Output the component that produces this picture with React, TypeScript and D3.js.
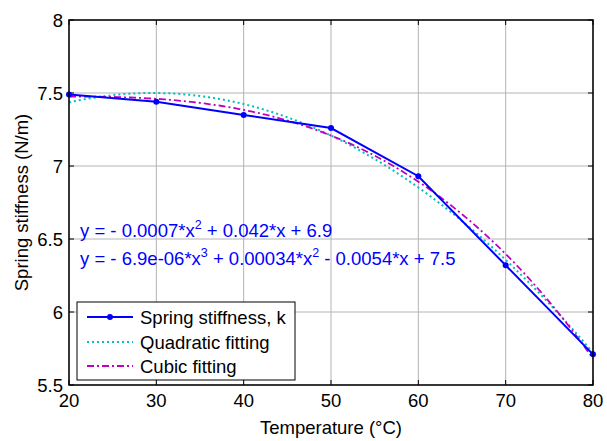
import React from "react";
import * as d3 from "d3";

const temps = [20, 30, 40, 50, 60, 70, 80];
const stiffness = [7.49, 7.44, 7.35, 7.26, 6.93, 6.32, 5.71];
const xTicks = [20, 30, 40, 50, 60, 70, 80];
const yTicks = [5.5, 6, 6.5, 7, 7.5, 8];
const legendLabels = ["Spring stiffness, k", "Quadratic fitting", "Cubic fitting"];

function polyfit(xs: number[], ys: number[], deg: number): number[] {
  const n = deg + 1;
  const A: number[][] = Array.from({ length: n }, () => new Array(n + 1).fill(0));
  for (let r = 0; r < n; r++) {
    for (let c = 0; c < n; c++) {
      A[r][c] = xs.reduce((s, x) => s + Math.pow(x, r + c), 0);
    }
    A[r][n] = xs.reduce((s, x, i) => s + Math.pow(x, r) * ys[i], 0);
  }
  for (let i = 0; i < n; i++) {
    let p = i;
    for (let k = i + 1; k < n; k++) if (Math.abs(A[k][i]) > Math.abs(A[p][i])) p = k;
    [A[i], A[p]] = [A[p], A[i]];
    for (let k = i + 1; k < n; k++) {
      const f = A[k][i] / A[i][i];
      for (let c = i; c <= n; c++) A[k][c] -= f * A[i][c];
    }
  }
  const coef = new Array(n).fill(0);
  for (let i = n - 1; i >= 0; i--) {
    let s = A[i][n];
    for (let c = i + 1; c < n; c++) s -= A[i][c] * coef[c];
    coef[i] = s / A[i][i];
  }
  return coef;
}

export default function App() {
  const W = 607, H = 441;
  const L = 69, R = 593, T = 20, B = 385;
  const x = d3.scaleLinear().domain([20, 80]).range([L, R]);
  const y = d3.scaleLinear().domain([5.5, 8]).range([B, T]);
  const font = "Arial, 'Liberation Sans', sans-serif";
  const fs = 18.5;

  const q = polyfit(temps, stiffness, 2);
  const c3 = polyfit(temps, stiffness, 3);
  const xs = d3.range(20, 80.01, 0.5);
  const ev = (co: number[], t: number) => co.reduce((s, a, i) => s + a * Math.pow(t, i), 0);
  const line = d3.line<[number, number]>().x(d => x(d[0])).y(d => y(d[1]));
  const dataPath = line(temps.map((t, i) => [t, stiffness[i]]))!;
  const qPath = line(xs.map(t => [t, ev(q, t)]))!;
  const cPath = line(xs.map(t => [t, ev(c3, t)]))!;

  const legX = 77, legY = 302, legW = 218, legH = 78;
  const rows = [317, 342, 366];

  return (
    <svg width={W} height={H} style={{ position: "absolute", left: 0, top: 0, background: "#fff" }} fontFamily={font}>
      <rect x={0} y={0} width={W} height={H} fill="#fff" />
      {/* grid */}
      {xTicks.map(t => (
        <line key={"gx" + t} x1={x(t)} x2={x(t)} y1={T} y2={B} stroke="#b4b4b4" strokeWidth={1} />
      ))}
      {yTicks.map(t => (
        <line key={"gy" + t} x1={L} x2={R} y1={y(t)} y2={y(t)} stroke="#b4b4b4" strokeWidth={1} />
      ))}
      {/* ticks */}
      {xTicks.map(t => (
        <g key={"tx" + t}>
          <line x1={x(t)} x2={x(t)} y1={B} y2={B - 5} stroke="#000" />
          <line x1={x(t)} x2={x(t)} y1={T} y2={T + 5} stroke="#000" />
          <text x={x(t)} y={B + 22} fontSize={fs} textAnchor="middle">{t}</text>
        </g>
      ))}
      {yTicks.map(t => (
        <g key={"ty" + t}>
          <line x1={L} x2={L + 5} y1={y(t)} y2={y(t)} stroke="#000" />
          <line x1={R} x2={R - 5} y1={y(t)} y2={y(t)} stroke="#000" />
          <text x={L - 6} y={y(t) + 6.5} fontSize={fs} textAnchor="end">{t}</text>
        </g>
      ))}
      {/* curves */}
      <path d={qPath} fill="none" stroke="#00bfbf" strokeWidth={2} strokeDasharray="2,3" />
      <path d={cPath} fill="none" stroke="#bf00bf" strokeWidth={1.8} strokeDasharray="7,3,2,3" />
      <path d={dataPath} fill="none" stroke="#0000ff" strokeWidth={2} />
      {temps.map((t, i) => (
        <circle key={"m" + t} cx={x(t)} cy={y(stiffness[i])} r={3} fill="#0000ff" />
      ))}
      {/* axes box */}
      <rect x={L} y={T} width={R - L} height={B - T} fill="none" stroke="#000" strokeWidth={1.5} />
      {/* equations */}
      <text x={80} y={237} fontSize={fs} fill="#0000ff">
        y = - 0.0007*x<tspan dy={-8} fontSize={12.5}>2</tspan><tspan dy={8}> + 0.042*x + 6.9</tspan>
      </text>
      <text x={80} y={265} fontSize={fs} fill="#0000ff">
        y = - 6.9e-06*x<tspan dy={-8} fontSize={12.5}>3</tspan><tspan dy={8}> + 0.00034*x</tspan>
        <tspan dy={-8} fontSize={12.5}>2</tspan><tspan dy={8}> - 0.0054*x + 7.5</tspan>
      </text>
      {/* legend */}
      <rect x={legX} y={legY} width={legW} height={legH} fill="#fff" stroke="#000" strokeWidth={1} />
      <line x1={87} x2={133} y1={rows[0]} y2={rows[0]} stroke="#0000ff" strokeWidth={2} />
      <circle cx={110} cy={rows[0]} r={3} fill="#0000ff" />
      <line x1={87} x2={133} y1={rows[1]} y2={rows[1]} stroke="#00bfbf" strokeWidth={2} strokeDasharray="2,3" />
      <line x1={87} x2={133} y1={rows[2]} y2={rows[2]} stroke="#bf00bf" strokeWidth={1.8} strokeDasharray="7,3,2,3" />
      {legendLabels.map((lab, i) => (
        <text key={lab} x={140} y={rows[i] + 6.5} fontSize={fs}>{lab}</text>
      ))}
      {/* axis labels */}
      <text x={(L + R) / 2} y={434} fontSize={fs} textAnchor="middle">Temperature (°C)</text>
      <text transform={`translate(28,${(T + B) / 2}) rotate(-90)`} fontSize={fs} textAnchor="middle">Spring stiffness (N/m)</text>
    </svg>
  );
}
